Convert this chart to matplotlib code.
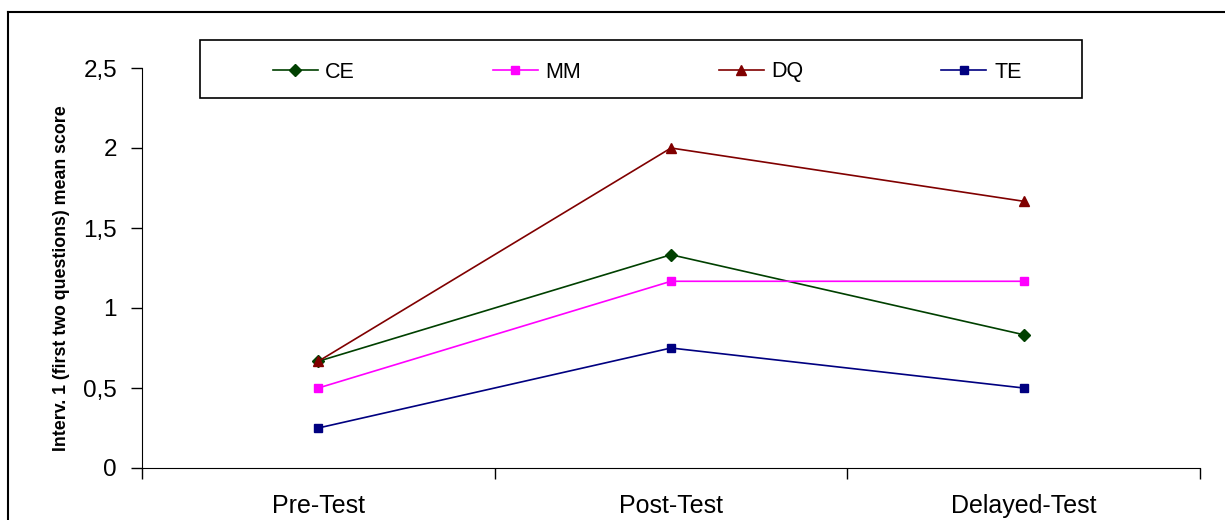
import matplotlib
matplotlib.use("Agg")
import matplotlib.pyplot as plt
from matplotlib.patches import Rectangle
from matplotlib.lines import Line2D

plt.rcParams['font.family'] = ['Liberation Sans', 'DejaVu Sans']

# data
phases = ["Pre-Test", "Post-Test", "Delayed-Test"]
ce = [0.667, 1.333, 0.833]
mm = [0.5, 1.167, 1.167]
dq = [0.667, 2.0, 1.667]
te = [0.25, 0.75, 0.5]
ytick_vals = [0, 0.5, 1, 1.5, 2, 2.5]
ytick_labels = ["0", "0,5", "1", "1,5", "2", "2,5"]

W, H = 1225, 520
fig = plt.figure(figsize=(W / 100, H / 100), dpi=100)
ax = fig.add_axes([142 / W, 1 - 468 / H, (1200 - 142) / W, (468 - 68) / H])

x = list(range(len(phases)))
ax.plot(x, ce, color="#004000", lw=1.2, marker="D", ms=6, label="CE")
ax.plot(x, mm, color="#FF00FF", lw=1.2, marker="s", ms=6, label="MM")
ax.plot(x, dq, color="#800000", lw=1.2, marker="^", ms=7, label="DQ")
ax.plot(x, te, color="#000080", lw=1.2, marker="s", ms=6, label="TE")

ax.set_xlim(-0.5, len(phases) - 0.5)
ax.set_ylim(0, 2.5)
ax.set_yticks(ytick_vals)
ax.set_yticklabels(ytick_labels, fontsize=17.5)
ax.set_xticks([i - 0.5 for i in range(len(phases) + 1)])
ax.set_xticklabels([])
ax.set_xticks(x, minor=True)
ax.set_xticklabels(phases, minor=True, fontsize=18)
ax.tick_params(axis="x", which="major", direction="out", length=8, width=1)
ax.tick_params(axis="x", which="minor", length=0, pad=19)
ax.tick_params(axis="y", direction="out", length=8, width=1, pad=10)
ax.spines["top"].set_visible(False)
ax.spines["right"].set_visible(False)
ax.set_ylabel("Interv. 1 (first two questions) mean score", fontsize=12.8,
              fontweight="bold")
ax.yaxis.set_label_coords(-0.068, 0.475)

# outer chart border (top and left, the rest is cut off)
fig.add_artist(Line2D([8 / W, 1.0], [1 - 12 / H, 1 - 12 / H],
                      transform=fig.transFigure, color="black", lw=1.5))
fig.add_artist(Line2D([8 / W, 8 / W], [0, 1 - 12 / H],
                      transform=fig.transFigure, color="black", lw=1.5))

# legend box
fig.add_artist(Rectangle((200 / W, 1 - 98 / H), (1082 - 200) / W, 58 / H,
                         transform=fig.transFigure, fill=False,
                         edgecolor="black", lw=1.2))
handles, labels = ax.get_legend_handles_labels()
fig.legend(handles, labels, ncol=4, frameon=False, fontsize=15.5,
           loc="center", mode="expand",
           bbox_to_anchor=(264 / W, 1 - 101 / H, (1030 - 264) / W, 58 / H),
           handlelength=2.1, handletextpad=0.35, borderaxespad=0)

fig.savefig("out.png", dpi=100)
